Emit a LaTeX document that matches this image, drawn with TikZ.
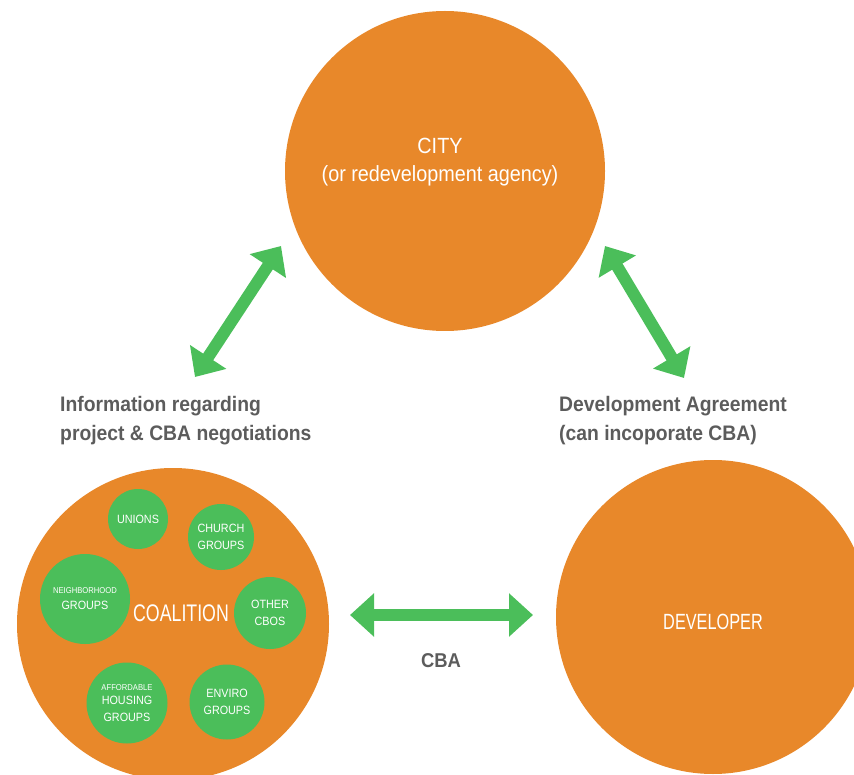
\documentclass[tikz,border=0pt]{standalone}
\usepackage{fontspec}
\usetikzlibrary{arrows.meta}
\setmainfont{Liberation Sans}
\newfontfamily\labelfont[FakeStretch=0.92]{Liberation Sans}
\newfontfamily\narrowfont[FakeStretch=0.74]{Liberation Sans}
\newfontfamily\cityfont[FakeStretch=0.9]{Liberation Sans}
\newfontfamily\smallfont[FakeStretch=0.9]{Liberation Sans}
\newcommand{\minitext}{\smallfont\fontsize{8.5}{10}\selectfont}
\definecolor{partyorange}{HTML}{E8882A}
\definecolor{groupgreen}{HTML}{4BBE5A}
\definecolor{labelgray}{HTML}{5C5C5C}
\tikzset{
  party/.style={circle, fill=partyorange, inner sep=0pt, minimum size=#1},
  group/.style={circle, fill=groupgreen, inner sep=0pt, minimum size=#1,
    text=white, align=center, font=\smallfont\fontsize{12}{17}\selectfont},
  biarrow/.style={draw=groupgreen, line width=12pt,
    {Triangle[length=24pt,width=42pt]}-{Triangle[length=24pt,width=42pt]}},
  caption/.style={text=labelgray, align=left, inner sep=0pt, anchor=north west,
    font=\labelfont\bfseries\fontsize{21}{29}\selectfont},
}
\begin{document}
\begin{tikzpicture}[x=1pt, y=-1pt]
\useasboundingbox (0,0) rectangle (854,775);

% the three parties
\node[party=320pt] (city) at (445,171) {};
\node[party=312pt] (coalition) at (173,624) {};
\node[party=314pt] (developer) at (713,617) {};

\node[text=white, align=center, inner sep=0pt,
  font=\cityfont\fontsize{22}{28}\selectfont] (citytext) at (440,162)
  {CITY\\(or redevelopment agency)};
\node[text=white, inner sep=0pt, font=\narrowfont\fontsize{22}{26}\selectfont]
  (devtext) at (713,622) {DEVELOPER};
\node[text=white, inner sep=0pt, font=\narrowfont\fontsize{24}{28}\selectfont]
  (coaltext) at (181,613) {COALITION};

% member groups of the coalition
\node[group=60pt] (unions) at (138,519) {UNIONS};
\node[group=66pt] (church) at (221,537) {CHURCH\\GROUPS};
\node[group=90pt] (neigh) at (85,599) {{\minitext NEIGHBORHOOD}\\[-1pt]GROUPS};
\node[group=72pt] (other) at (270,613) {OTHER\\CBOS};
\node[group=81pt] (afford) at (127,703) {{\minitext AFFORDABLE}\\[-3pt]HOUSING\\GROUPS};
\node[group=75pt] (enviro) at (227,702) {ENVIRO\\GROUPS};

% relationships
\coordinate (cl) at (195,377);
\coordinate (cu) at (281,246);
\coordinate (du) at (605,246);
\coordinate (dl) at (684,378);
\coordinate (hl) at (350,615);
\coordinate (hr) at (533,615);
\draw[biarrow] (cl) -- (cu);
\draw[biarrow] (du) -- (dl);
\draw[biarrow] (hl) -- (hr);

\node[caption] (infolabel) at (60,396)
  {Information regarding\\project \& CBA negotiations};
\node[caption] (agreelabel) at (559,396)
  {Development Agreement\\(can incoporate CBA)};
\node[text=labelgray, inner sep=0pt, font=\labelfont\bfseries\fontsize{20}{24}\selectfont]
  (cbalabel) at (441,661) {CBA};
\end{tikzpicture}
\end{document}
